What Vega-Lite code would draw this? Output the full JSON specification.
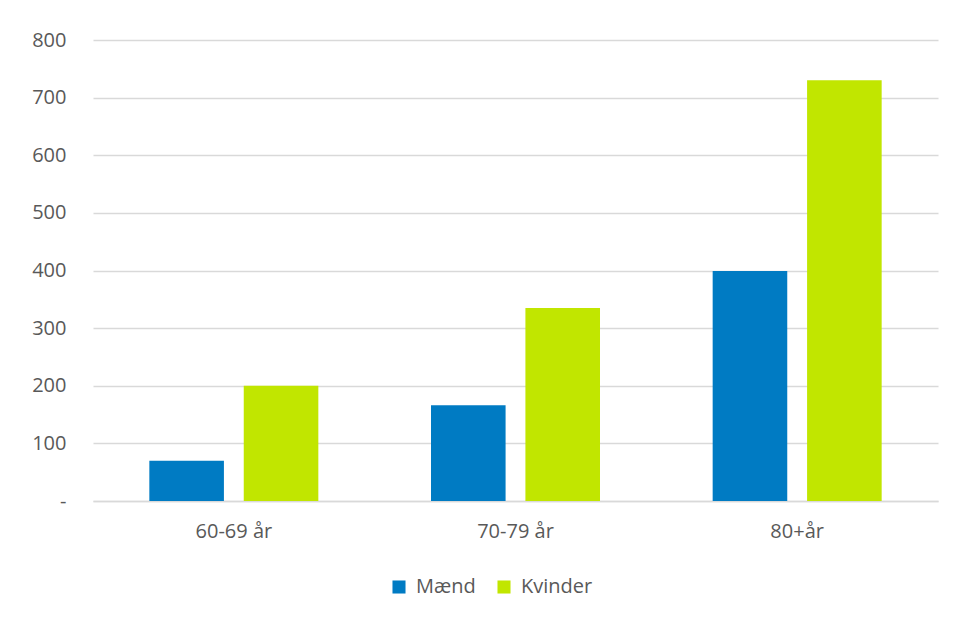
{
  "$schema": "https://vega.github.io/schema/vega-lite/v6.json",
  "width": 845,
  "height": 461,
  "autosize": "none",
  "padding": {"left": 93, "top": 40, "right": 17, "bottom": 116},
  "background": "white",
  "config": {
    "view": {"stroke": null},
    "font": "Open Sans",
    "axis": {"labelColor": "#595959", "labelFont": "Open Sans", "labelFontSize": 20, "titleColor": "#595959"},
    "legend": {"labelColor": "#595959", "labelFont": "Open Sans", "labelFontSize": 20}
  },
  "data": {
    "values": [
      {"alder": "60-69 år", "køn": "Mænd", "antal": 70},
      {"alder": "60-69 år", "køn": "Kvinder", "antal": 200},
      {"alder": "70-79 år", "køn": "Mænd", "antal": 166},
      {"alder": "70-79 år", "køn": "Kvinder", "antal": 335},
      {"alder": "80+år", "køn": "Mænd", "antal": 399},
      {"alder": "80+år", "køn": "Kvinder", "antal": 730}
    ]
  },
  "mark": {"type": "bar"},
  "encoding": {
    "x": {
      "field": "alder", "type": "nominal", "sort": null,
      "scale": {"paddingInner": 0.4, "paddingOuter": 0.2},
      "axis": {"title": null, "labelAngle": 0, "domain": true, "domainColor": "#D9D9D9", "domainWidth": 1.3, "ticks": false, "labelPadding": 20}
    },
    "xOffset": {
      "field": "køn", "type": "nominal", "sort": ["Mænd", "Kvinder"],
      "scale": {"paddingInner": 0.21, "paddingOuter": 0}
    },
    "y": {
      "field": "antal", "type": "quantitative",
      "scale": {"domain": [0, 800], "nice": false},
      "axis": {"title": null, "values": [0, 100, 200, 300, 400, 500, 600, 700, 800], "domain": false, "ticks": false, "labelPadding": 27, "gridColor": "#D9D9D9", "gridWidth": 1.3,
        "labelExpr": "datum.value == 0 ? '-  ' : datum.label"}
    },
    "color": {
      "field": "køn", "type": "nominal",
      "scale": {"domain": ["Mænd", "Kvinder"], "range": ["#007BC3", "#C1E600"]},
      "legend": {"title": null, "orient": "none", "legendX": 296, "legendY": 537, "direction": "horizontal", "symbolType": "square", "symbolSize": 170, "symbolStrokeWidth": 0, "columnPadding": 18, "labelOffset": 7}
    }
  }
}
